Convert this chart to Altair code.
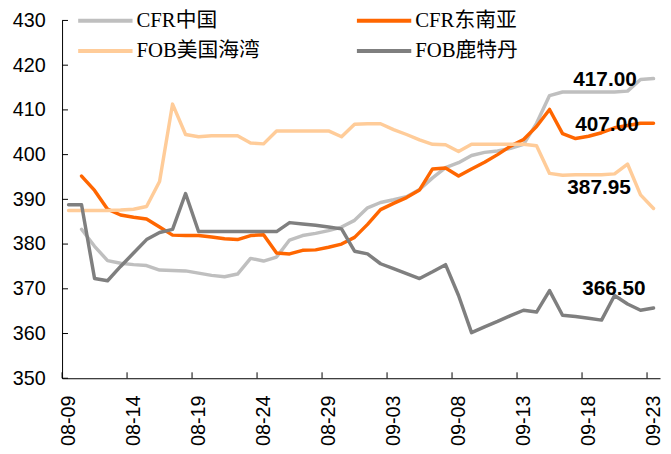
import altair as alt
import pandas as pd

YEAR = 2023

dates = [
    "08-09", "08-10", "08-11", "08-12", "08-13", "08-14", "08-15", "08-16",
    "08-17", "08-18", "08-19", "08-20", "08-21", "08-22", "08-23", "08-24",
    "08-25", "08-26", "08-27", "08-28", "08-29", "08-30", "08-31", "09-01",
    "09-02", "09-03", "09-04", "09-05", "09-06", "09-07", "09-08", "09-09",
    "09-10", "09-11", "09-12", "09-13", "09-14", "09-15", "09-16", "09-17",
    "09-18", "09-19", "09-20", "09-21", "09-22", "09-23",
]

series_names = ["CFR中国", "CFR东南亚", "FOB美国海湾", "FOB鹿特丹"]
series_colors = ["#BFBFBF", "#FF6600", "#FFCC99", "#7F7F7F"]

cfr_china = [
    None, 383.3, 379.5, 376.3, 375.7, 375.4, 375.2, 374.2, 374.1, 374.0,
    373.5, 373.0, 372.7, 373.3, 376.8, 376.2, 377.1, 380.9, 381.9, 382.4,
    383.0, 383.8, 385.3, 388.1, 389.3, 389.9, 390.6, 392.2, 394.8, 397.1,
    398.2, 399.8, 400.5, 400.8, 401.4, 402.3, 407.0, 413.2, 414.0, 414.0,
    414.0, 414.0, 414.0, 414.2, 416.8, 417.0,
]
cfr_sea = [
    None, 395.2, 392.0, 387.8, 386.5, 386.0, 385.6, 383.8, 382.0, 381.9,
    381.9, 381.6, 381.2, 381.0, 381.9, 382.1, 378.0, 377.8, 378.6, 378.7,
    379.3, 380.0, 381.5, 384.4, 387.7, 389.1, 390.4, 392.1, 396.8, 397.0,
    395.2, 396.8, 398.3, 400.0, 401.9, 403.4, 406.3, 410.1, 404.7, 403.6,
    404.1, 404.9, 406.0, 406.5, 407.0, 407.0,
]
fob_us_gulf = [
    387.5, 387.5, 387.5, 387.5, 387.6, 387.8, 388.4, 394.0, 411.3, 404.5,
    404.0, 404.2, 404.2, 404.2, 402.6, 402.4, 405.3, 405.3, 405.3, 405.3,
    405.3, 404.0, 406.8, 406.9, 406.9, 405.6, 404.5, 403.3, 402.3, 402.2,
    400.7, 402.3, 402.3, 402.3, 402.3, 402.3, 402.0, 395.8, 395.4, 395.5,
    395.5, 395.5, 395.7, 397.9, 391.0, 387.95,
]
fob_rotterdam = [
    388.8, 388.8, 372.3, 371.8, 375.0, 378.0, 381.0, 382.6, 383.3, 391.3,
    382.8, 382.8, 382.8, 382.8, 382.8, 382.8, 382.8, 384.8, 384.5, 384.2,
    383.8, 383.4, 378.4, 377.8, 375.6, 374.5, 373.4, 372.3, 373.8, 375.4,
    368.5, 360.2, 361.5, 362.7, 364.0, 365.2, 364.8, 369.6, 364.1, 363.8,
    363.4, 363.0, 368.5, 366.6, 365.2, 365.7,
]

tick_dates = ["08-09", "08-14", "08-19", "08-24", "08-29", "09-03",
              "09-08", "09-13", "09-18", "09-23"]
y_ticks = [350, 360, 370, 380, 390, 400, 410, 420, 430]

label_texts = ["417.00", "407.00", "387.95", "366.50"]
label_values = [417.00, 407.00, 387.95, 366.50]
label_offsets = [(-17, 1), (-15, 2), (-23, -21), (-8, -16)]

# ---------------------------------------------------------------
rows = []
for name, vals in zip(series_names, [cfr_china, cfr_sea, fob_us_gulf, fob_rotterdam]):
    for d, v in zip(dates, vals):
        if v is not None:
            rows.append({"date": f"{YEAR}-{d}T12:00:00", "series": name, "value": v})
df = pd.DataFrame(rows)


def dt(md):
    m, d = md.split("-")
    return alt.DateTime(year=YEAR, month=int(m), date=int(d), hours=0)


W, H = 605, 362
x_scale = alt.Scale(domain=[dt("08-09"), dt("09-24")], nice=False)
y_scale = alt.Scale(domain=[350, 430], nice=False, zero=False)

num_font = "Liberation Sans, Arial, sans-serif"
axis_color = "#000000"

lines = alt.Chart(df).mark_line(
    strokeWidth=3.5, strokeJoin="round", strokeCap="round"
).encode(
    x=alt.X(
        "date:T", scale=x_scale,
        axis=alt.Axis(
            values=[dt(t) for t in tick_dates], format="%m-%d",
            labelAngle=270, labelFont=num_font, labelFontSize=20,
            labelColor="#000000", labelOffset=6.6, labelPadding=17,
            ticks=False, grid=False, domainColor=axis_color, title=None,
        ),
    ),
    y=alt.Y(
        "value:Q", scale=y_scale,
        axis=alt.Axis(
            values=y_ticks, labelFont=num_font, labelFontSize=20,
            labelColor="#000000", labelPadding=17, ticks=False, grid=False,
            domainColor=axis_color, title=None,
        ),
    ),
    color=alt.Color(
        "series:N",
        scale=alt.Scale(domain=series_names, range=series_colors),
        legend=alt.Legend(
            title=None, orient="none", legendX=11.3, legendY=-10.5,
            direction="horizontal", columns=2, columnPadding=90, rowPadding=9,
            symbolType="M-1,0L9,0", symbolSize=121, symbolStrokeWidth=4,
            labelOffset=43, labelFont="Liberation Serif, Noto Sans CJK SC",
            labelFontSize=21, labelColor="#000000", padding=0, labelLimit=400,
        ),
    ),
    detail="series:N",
)

xtick_df = pd.DataFrame({"t": [f"{YEAR}-{t}T00:00:00" for t in tick_dates]})
x_ticks_layer = alt.Chart(xtick_df).mark_rule(color=axis_color, strokeWidth=1).encode(
    x=alt.X("t:T", scale=x_scale),
    y=alt.value(H), y2=alt.value(H - 6),
)
ytick_df = pd.DataFrame({"v": y_ticks})
y_ticks_layer = alt.Chart(ytick_df).mark_rule(color=axis_color, strokeWidth=1).encode(
    y=alt.Y("v:Q", scale=y_scale),
    x=alt.value(0), x2=alt.value(6),
)

text_layers = []
for txt, val, (dx, dy) in zip(label_texts, label_values, label_offsets):
    tdf = pd.DataFrame({"date": [f"{YEAR}-{dates[-1]}T12:00:00"], "value": [val], "label": [txt]})
    text_layers.append(
        alt.Chart(tdf).mark_text(
            align="right", baseline="middle", dx=dx, dy=dy,
            font=num_font, fontSize=21, fontWeight="bold", color="#000000",
        ).encode(
            x=alt.X("date:T", scale=x_scale),
            y=alt.Y("value:Q", scale=y_scale),
            text="label:N",
        )
    )

chart = alt.layer(lines, x_ticks_layer, y_ticks_layer, *text_layers).properties(
    width=W, height=H,
    autosize=alt.AutoSizeParams(type="none"),
    padding={"left": 54.7, "top": 10, "right": 3, "bottom": 70},
).configure_view(stroke=None)

chart.save("out.html", embed_options={"renderer": "svg", "actions": False})
